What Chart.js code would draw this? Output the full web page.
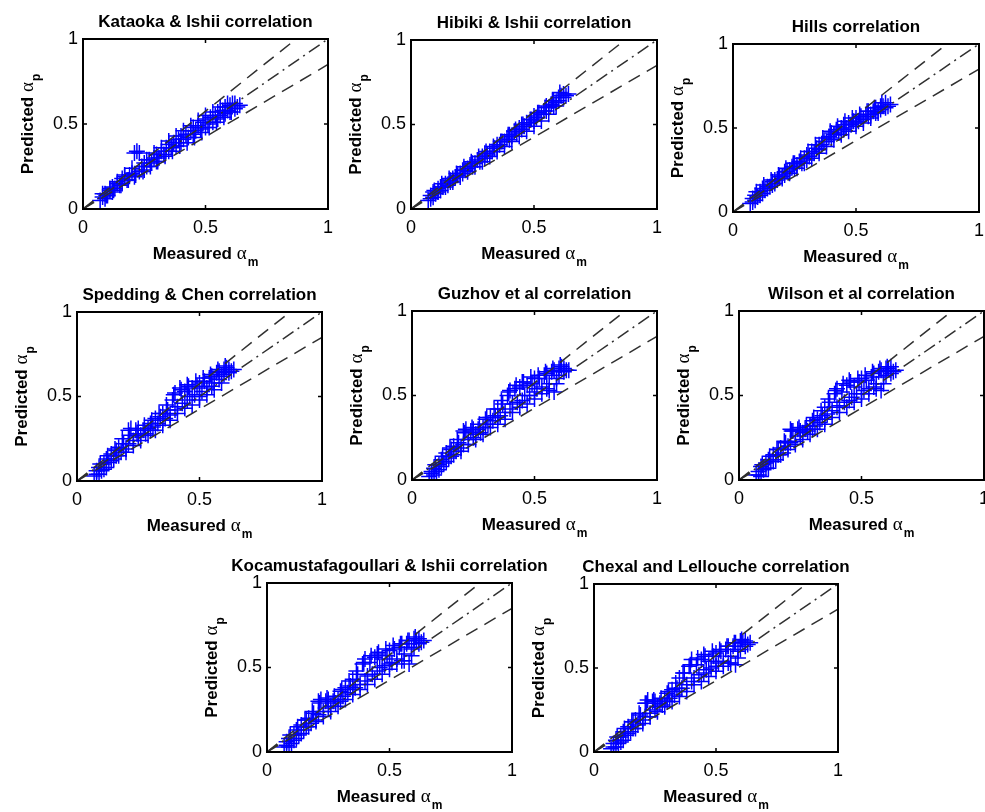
<!DOCTYPE html>
<html>
<head>
<meta charset="utf-8">
<script src="https://cdn.jsdelivr.net/npm/chart.js@4.4.1/dist/chart.umd.min.js"></script>
<style>
  html, body { margin: 0; padding: 0; background: #fff; overflow: hidden; }
  body { width: 985px; height: 812px; position: relative; }
  canvas { position: absolute; }
</style>
</head>
<body>
<script>
const titles = [
    'Kataoka & Ishii correlation',
    'Hibiki & Ishii correlation',
    'Hills correlation',
    'Spedding & Chen correlation',
    'Guzhov et al correlation',
    'Wilson et al correlation',
    'Kocamustafagoullari & Ishii correlation',
    'Chexal and Lellouche correlation'
];
const tickValues = [0, 0.5, 1];
// reference lines: +15 %, perfect agreement, -15 %
const refSlopes = [1.15, 1, 0.85];

// measured void fraction (same data set for every correlation)
const measured = [
    0.07, 0.08, 0.09, 0.09, 0.10, 0.11, 0.12, 0.12, 0.13, 0.14,
    0.15, 0.16, 0.16, 0.17, 0.18, 0.19, 0.20, 0.21, 0.21, 0.22,
    0.23, 0.24, 0.25, 0.25, 0.26, 0.27, 0.28, 0.29, 0.30, 0.30,
    0.31, 0.32, 0.33, 0.34, 0.35, 0.35, 0.36, 0.37, 0.38, 0.39,
    0.40, 0.40, 0.41, 0.42, 0.43, 0.44, 0.45, 0.45, 0.46, 0.47,
    0.48, 0.49, 0.50, 0.50, 0.51, 0.52, 0.53, 0.54, 0.55, 0.55,
    0.56, 0.57, 0.58, 0.58, 0.59, 0.60, 0.60, 0.61, 0.62, 0.62,
    0.63, 0.64,
    0.080, 0.095, 0.110, 0.125, 0.140, 0.155, 0.170, 0.185, 0.200, 0.215,
    0.230, 0.245, 0.260, 0.275, 0.290, 0.305, 0.320, 0.335, 0.350, 0.365,
    0.380, 0.395, 0.410, 0.425, 0.440, 0.455, 0.470, 0.485, 0.500, 0.515,
    0.530, 0.545, 0.560, 0.575, 0.590, 0.605
];

const predKataoka = [
    0.05, 0.07, 0.06, 0.09, 0.08, 0.11, 0.10, 0.13, 0.12, 0.15,
    0.14, 0.18, 0.15, 0.19, 0.17, 0.20, 0.21, 0.33, 0.19, 0.34,
    0.22, 0.25, 0.23, 0.27, 0.25, 0.29, 0.27, 0.30, 0.28, 0.32,
    0.30, 0.34, 0.32, 0.36, 0.34, 0.38, 0.36, 0.39, 0.37, 0.41,
    0.39, 0.43, 0.41, 0.44, 0.42, 0.46, 0.44, 0.48, 0.46, 0.49,
    0.47, 0.51, 0.48, 0.53, 0.50, 0.54, 0.51, 0.55, 0.53, 0.57,
    0.55, 0.58, 0.56, 0.60, 0.58, 0.61, 0.57, 0.62, 0.59, 0.62,
    0.60, 0.61,
    0.09, 0.08, 0.12, 0.11, 0.16, 0.14, 0.20, 0.17, 0.24, 0.20,
    0.33, 0.22, 0.29, 0.25, 0.33, 0.28, 0.36, 0.31, 0.40, 0.34,
    0.43, 0.37, 0.46, 0.39, 0.49, 0.42, 0.52, 0.45, 0.55, 0.48,
    0.57, 0.51, 0.60, 0.54, 0.62, 0.57
];
const predHibiki = [
    0.05, 0.08, 0.07, 0.10, 0.09, 0.12, 0.11, 0.13, 0.13, 0.15,
    0.14, 0.17, 0.16, 0.18, 0.19, 0.20, 0.21, 0.23, 0.21, 0.23,
    0.24, 0.26, 0.25, 0.27, 0.27, 0.29, 0.28, 0.31, 0.30, 0.33,
    0.32, 0.34, 0.34, 0.36, 0.36, 0.38, 0.38, 0.40, 0.40, 0.42,
    0.41, 0.44, 0.43, 0.46, 0.45, 0.48, 0.47, 0.50, 0.49, 0.51,
    0.51, 0.53, 0.52, 0.55, 0.54, 0.57, 0.56, 0.58, 0.58, 0.61,
    0.60, 0.62, 0.61, 0.64, 0.63, 0.66, 0.64, 0.67, 0.66, 0.68,
    0.67, 0.68,
    0.06, 0.11, 0.10, 0.15, 0.13, 0.18, 0.16, 0.21, 0.19, 0.25,
    0.22, 0.28, 0.25, 0.31, 0.28, 0.34, 0.31, 0.37, 0.34, 0.40,
    0.37, 0.44, 0.40, 0.47, 0.43, 0.50, 0.46, 0.53, 0.49, 0.57,
    0.52, 0.60, 0.56, 0.64, 0.61, 0.69
];
const predHills = [
    0.05, 0.08, 0.07, 0.10, 0.09, 0.12, 0.11, 0.14, 0.13, 0.15,
    0.15, 0.18, 0.16, 0.19, 0.19, 0.21, 0.21, 0.24, 0.22, 0.24,
    0.25, 0.27, 0.26, 0.29, 0.28, 0.30, 0.29, 0.32, 0.31, 0.34,
    0.33, 0.36, 0.35, 0.38, 0.37, 0.40, 0.40, 0.42, 0.42, 0.45,
    0.44, 0.47, 0.46, 0.49, 0.47, 0.50, 0.49, 0.52, 0.50, 0.53,
    0.52, 0.54, 0.53, 0.56, 0.54, 0.57, 0.55, 0.58, 0.57, 0.60,
    0.58, 0.60, 0.59, 0.62, 0.60, 0.63, 0.61, 0.63, 0.62, 0.65,
    0.63, 0.64,
    0.06, 0.12, 0.10, 0.16, 0.14, 0.19, 0.17, 0.22, 0.20, 0.26,
    0.23, 0.29, 0.26, 0.32, 0.29, 0.36, 0.32, 0.40, 0.35, 0.44,
    0.39, 0.48, 0.43, 0.51, 0.46, 0.54, 0.48, 0.56, 0.51, 0.58,
    0.53, 0.60, 0.56, 0.62, 0.59, 0.65
];
const predSpedding = [
    0.03, 0.06, 0.04, 0.08, 0.06, 0.10, 0.08, 0.13, 0.11, 0.16,
    0.13, 0.18, 0.15, 0.20, 0.17, 0.22, 0.19, 0.30, 0.22, 0.31,
    0.24, 0.30, 0.26, 0.31, 0.27, 0.30, 0.28, 0.31, 0.30, 0.34,
    0.32, 0.37, 0.34, 0.38, 0.36, 0.40, 0.37, 0.42, 0.39, 0.48,
    0.42, 0.52, 0.44, 0.55, 0.46, 0.53, 0.48, 0.57, 0.50, 0.55,
    0.51, 0.56, 0.50, 0.58, 0.53, 0.59, 0.55, 0.61, 0.56, 0.62,
    0.58, 0.64, 0.60, 0.65, 0.62, 0.66, 0.63, 0.67, 0.64, 0.66,
    0.65, 0.66,
    0.04, 0.10, 0.07, 0.15, 0.12, 0.19, 0.15, 0.25, 0.17, 0.27,
    0.21, 0.28, 0.24, 0.33, 0.27, 0.36, 0.30, 0.40, 0.33, 0.45,
    0.36, 0.51, 0.40, 0.54, 0.43, 0.56, 0.45, 0.59, 0.48, 0.61,
    0.51, 0.63, 0.54, 0.66, 0.58, 0.68
];
const predGuzhov = [
    0.02, 0.05, 0.03, 0.07, 0.05, 0.09, 0.08, 0.12, 0.10, 0.16,
    0.13, 0.18, 0.14, 0.20, 0.17, 0.22, 0.19, 0.29, 0.21, 0.30,
    0.24, 0.29, 0.25, 0.30, 0.27, 0.30, 0.28, 0.31, 0.31, 0.36,
    0.33, 0.37, 0.35, 0.38, 0.37, 0.42, 0.38, 0.45, 0.40, 0.50,
    0.42, 0.53, 0.45, 0.54, 0.46, 0.55, 0.47, 0.58, 0.50, 0.56,
    0.50, 0.57, 0.52, 0.60, 0.54, 0.60, 0.55, 0.62, 0.54, 0.63,
    0.57, 0.64, 0.52, 0.65, 0.60, 0.66, 0.62, 0.67, 0.64, 0.66,
    0.65, 0.65,
    0.04, 0.09, 0.06, 0.14, 0.11, 0.19, 0.15, 0.24, 0.17, 0.28,
    0.21, 0.31, 0.24, 0.33, 0.27, 0.37, 0.31, 0.42, 0.33, 0.47,
    0.36, 0.52, 0.40, 0.56, 0.43, 0.58, 0.45, 0.61, 0.48, 0.62,
    0.51, 0.64, 0.53, 0.66, 0.57, 0.68
];
const predWilson = [
    0.03, 0.05, 0.02, 0.08, 0.06, 0.10, 0.07, 0.12, 0.11, 0.15,
    0.12, 0.18, 0.15, 0.19, 0.16, 0.22, 0.20, 0.30, 0.22, 0.29,
    0.23, 0.30, 0.26, 0.29, 0.28, 0.30, 0.29, 0.32, 0.30, 0.35,
    0.32, 0.36, 0.34, 0.38, 0.36, 0.43, 0.39, 0.46, 0.41, 0.51,
    0.43, 0.54, 0.44, 0.52, 0.46, 0.56, 0.47, 0.59, 0.49, 0.55,
    0.51, 0.58, 0.51, 0.60, 0.53, 0.59, 0.54, 0.61, 0.55, 0.63,
    0.57, 0.64, 0.53, 0.65, 0.61, 0.66, 0.62, 0.66, 0.63, 0.67,
    0.64, 0.65,
    0.03, 0.09, 0.07, 0.14, 0.11, 0.18, 0.15, 0.23, 0.18, 0.29,
    0.21, 0.31, 0.24, 0.32, 0.27, 0.37, 0.30, 0.41, 0.33, 0.48,
    0.37, 0.53, 0.40, 0.57, 0.43, 0.58, 0.46, 0.60, 0.48, 0.62,
    0.51, 0.64, 0.54, 0.66, 0.57, 0.67
];
const predKocamustafa = [
    0.03, 0.06, 0.03, 0.08, 0.05, 0.10, 0.08, 0.13, 0.10, 0.16,
    0.13, 0.19, 0.15, 0.20, 0.17, 0.23, 0.19, 0.30, 0.22, 0.31,
    0.24, 0.30, 0.26, 0.31, 0.27, 0.30, 0.29, 0.31, 0.30, 0.36,
    0.33, 0.38, 0.35, 0.39, 0.37, 0.43, 0.38, 0.46, 0.40, 0.52,
    0.42, 0.55, 0.45, 0.53, 0.46, 0.56, 0.48, 0.58, 0.50, 0.55,
    0.51, 0.57, 0.52, 0.60, 0.53, 0.61, 0.55, 0.62, 0.54, 0.64,
    0.58, 0.64, 0.52, 0.66, 0.61, 0.67, 0.62, 0.66, 0.64, 0.67,
    0.65, 0.66,
    0.04, 0.10, 0.07, 0.15, 0.11, 0.19, 0.15, 0.24, 0.18, 0.29,
    0.21, 0.32, 0.24, 0.33, 0.27, 0.37, 0.31, 0.42, 0.34, 0.48,
    0.37, 0.53, 0.40, 0.57, 0.43, 0.59, 0.46, 0.61, 0.49, 0.63,
    0.52, 0.64, 0.54, 0.66, 0.57, 0.68
];
const predChexal = [
    0.02, 0.05, 0.03, 0.07, 0.05, 0.09, 0.07, 0.12, 0.10, 0.15,
    0.12, 0.18, 0.14, 0.19, 0.16, 0.22, 0.19, 0.29, 0.21, 0.31,
    0.23, 0.30, 0.25, 0.30, 0.27, 0.29, 0.28, 0.31, 0.30, 0.35,
    0.32, 0.37, 0.34, 0.38, 0.36, 0.44, 0.38, 0.47, 0.40, 0.51,
    0.42, 0.55, 0.44, 0.52, 0.46, 0.55, 0.47, 0.58, 0.49, 0.54,
    0.50, 0.57, 0.51, 0.59, 0.53, 0.60, 0.54, 0.61, 0.53, 0.63,
    0.57, 0.63, 0.52, 0.65, 0.60, 0.66, 0.61, 0.65, 0.63, 0.66,
    0.64, 0.65,
    0.03, 0.09, 0.06, 0.14, 0.11, 0.18, 0.14, 0.23, 0.17, 0.29,
    0.21, 0.31, 0.24, 0.32, 0.27, 0.36, 0.30, 0.41, 0.33, 0.47,
    0.36, 0.52, 0.40, 0.56, 0.42, 0.57, 0.45, 0.60, 0.48, 0.61,
    0.51, 0.63, 0.53, 0.65, 0.56, 0.67
];
const predictedSets = [predKataoka, predHibiki, predHills, predSpedding,
    predGuzhov, predWilson, predKocamustafa, predChexal];

// plot box of each panel in page pixels: left, top, width, height
const panels = [
    [83, 39, 245, 170], [411, 40, 246, 169], [733, 44, 246, 168],
    [77, 312, 245, 169], [412, 311, 245, 169], [739, 311, 245, 169],
    [267, 583, 245, 169], [594, 584, 244, 168]
];
const PAD_L = 80, PAD_T = 35, PAD_R = 60, PAD_B = 62;
const FONT = '"Liberation Sans", Arial, sans-serif';
const refDashes = [[13, 8], [13, 5, 2, 5], [13, 8]];

function drawLabel(ctx, main, greek, sub, cx, y) {
    const fMain = 'bold 17px ' + FONT;
    const fGreek = '19px "Liberation Serif", serif';
    const fSub = 'bold 12px ' + FONT;
    ctx.font = fMain; const w1 = ctx.measureText(main).width;
    ctx.font = fGreek; const w2 = ctx.measureText(greek).width;
    ctx.font = fSub; const w3 = ctx.measureText(sub).width;
    let x = cx - (w1 + w2 + w3 + 1) / 2;
    ctx.textAlign = 'left';
    ctx.font = fMain; ctx.fillText(main, x, y); x += w1;
    ctx.font = fGreek; ctx.fillText(greek, x, y); x += w2 + 1;
    ctx.font = fSub; ctx.fillText(sub, x, y + 7);
}

// matlab style box with inward ticks, title and axis labels
const framePlugin = {
    id: 'frame',
    afterDatasetsDraw(chart, args, opts) {
        const { ctx, chartArea: a, scales } = chart;
        ctx.save();
        ctx.strokeStyle = '#000';
        ctx.lineWidth = 2;
        ctx.strokeRect(a.left, a.top, a.right - a.left, a.bottom - a.top);
        ctx.lineWidth = 1.5;
        ctx.beginPath();
        tickValues.forEach(v => {
            const x = scales.x.getPixelForValue(v);
            const y = scales.y.getPixelForValue(v);
            ctx.moveTo(x, a.bottom); ctx.lineTo(x, a.bottom - 4);
            ctx.moveTo(x, a.top); ctx.lineTo(x, a.top + 4);
            ctx.moveTo(a.left, y); ctx.lineTo(a.left + 4, y);
            ctx.moveTo(a.right, y); ctx.lineTo(a.right - 4, y);
        });
        ctx.stroke();

        ctx.fillStyle = '#000';
        ctx.textBaseline = 'alphabetic';
        ctx.textAlign = 'center';
        ctx.font = 'bold 17px ' + FONT;
        const cx = (a.left + a.right) / 2;
        ctx.fillText(opts.title, cx, a.top - 12);

        drawLabel(ctx, 'Measured ', 'α', 'm', cx, a.bottom + 50);
        ctx.translate(a.left - 50, (a.top + a.bottom) / 2);
        ctx.rotate(-Math.PI / 2);
        drawLabel(ctx, 'Predicted ', 'α', 'p', 0, 0);
        ctx.restore();
    }
};

function axis(fit, pad) {
    return {
        type: 'linear',
        min: 0,
        max: 1,
        afterBuildTicks: s => { s.ticks = tickValues.map(v => ({ value: v })); },
        afterFit: fit,
        grid: { display: false, drawTicks: false },
        border: { display: false },
        ticks: {
            color: '#000',
            font: { family: FONT, size: 18 },
            padding: pad,
            autoSkip: false,
            maxRotation: 0,
            callback: v => String(v)
        }
    };
}

panels.forEach((p, i) => {
    const [L, T, W, H] = p;
    const canvas = document.createElement('canvas');
    canvas.width = W + PAD_L + PAD_R;
    canvas.height = H + PAD_T + PAD_B;
    canvas.style.left = (L - PAD_L) + 'px';
    canvas.style.top = (T - PAD_T) + 'px';
    document.body.appendChild(canvas);

    const lineSets = refSlopes.map((s, k) => ({
        data: [{ x: 0, y: 0 }, { x: 1, y: s }],
        showLine: true,
        borderColor: '#303030',
        borderWidth: 1.5,
        borderDash: refDashes[k],
        pointRadius: 0
    }));
    const pred = predictedSets[i];
    const pointSet = {
        data: measured.map((m, j) => ({ x: m, y: pred[j] })),
        pointStyle: 'cross',
        pointRadius: 8,
        borderColor: '#0000ff',
        borderWidth: 1.5,
        showLine: false
    };

    new Chart(canvas, {
        type: 'scatter',
        data: { datasets: [...lineSets, pointSet] },
        options: {
            responsive: false,
            animation: false,
            devicePixelRatio: 1,
            layout: { padding: { top: PAD_T, right: PAD_R, left: 0, bottom: 0 } },
            scales: {
                x: axis(s => { s.height = PAD_B; }, 8),
                y: axis(s => { s.width = PAD_L; }, 5)
            },
            plugins: {
                legend: { display: false },
                tooltip: { enabled: false },
                frame: { title: titles[i] }
            }
        },
        plugins: [framePlugin]
    });
});
</script>
</body>
</html>
